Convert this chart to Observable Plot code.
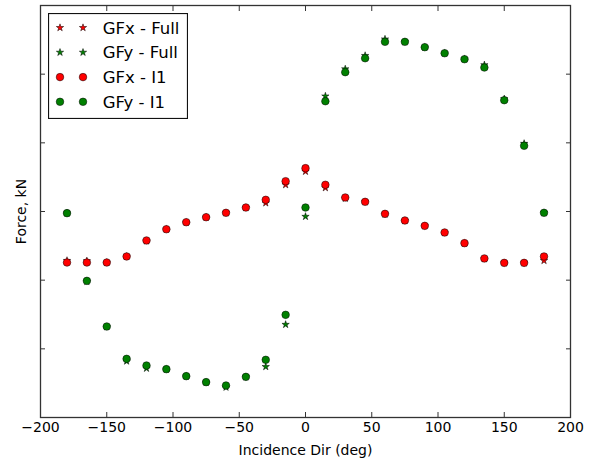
<!DOCTYPE html>
<html><head><meta charset="utf-8">
<script src="https://cdn.jsdelivr.net/npm/d3@7"></script>
<script src="https://cdn.jsdelivr.net/npm/@observablehq/plot@0.6"></script>
<style>
body{margin:0;background:#fff;}
#wrap{position:relative;width:592px;height:459px;font-family:"DejaVu Sans",sans-serif;}
#legend{position:absolute;left:48px;top:13px;}
</style></head><body><div id="wrap"></div>
<script>
const angles = [-180,-165,-150,-135,-120,-105,-90,-75,-60,-45,-30,-15,0,15,30,45,60,75,90,105,120,135,150,165,180];
const gfxFull = [-0.715,-0.72,-0.743,-0.655,-0.43,-0.26,-0.16,-0.085,-0.02,0.055,0.124,0.389,0.583,0.345,0.19,0.14,-0.04,-0.135,-0.21,-0.31,-0.465,-0.69,-0.75,-0.75,-0.715];
const gfyFull = [-0.024,-1.02,-1.68,-2.18,-2.285,-2.30,-2.40,-2.49,-2.56,-2.41,-2.26,-1.646,-0.073,1.68,2.075,2.27,2.51,2.47,2.39,2.305,2.22,2.135,1.64,0.99,-0.019];
const gfxI1 = [-0.743,-0.743,-0.743,-0.655,-0.422,-0.258,-0.156,-0.083,-0.019,0.058,0.170,0.441,0.631,0.389,0.204,0.141,-0.034,-0.131,-0.209,-0.306,-0.461,-0.684,-0.748,-0.748,-0.655];
const gfyI1 = [-0.024,-1.01,-1.675,-2.146,-2.243,-2.296,-2.398,-2.485,-2.534,-2.408,-2.16,-1.505,0.058,1.606,2.029,2.232,2.471,2.471,2.393,2.305,2.218,2.097,1.621,0.957,-0.019];
const xTicks = [-200,-150,-100,-50,0,50,100,150,200];
const yTicks = [-3,-2,-1,0,1,2,3];
const seriesNames = ["GFx - Full","GFy - Full","GFx - I1","GFy - I1"];
const seriesColors = ["#ff0000","#008000","#ff0000","#008000"];
const seriesSymbols = ["star","star","circle","circle"];

const seriesValues = [gfxFull, gfyFull, gfxI1, gfyI1];
const rows = seriesNames.map((name, s) => angles.map((a, i) => ({angle: a, value: seriesValues[s][i], series: name})));

const starOpts = {x: "angle", y: "value", symbol: "star", r: 2.3, stroke: "black", strokeWidth: 0.5};
const circOpts = {x: "angle", y: "value", r: 3.8, stroke: "black", strokeWidth: 0.5};
const noLabel = () => "";

const chart = Plot.plot({
  width: 592, height: 459,
  marginLeft: 40, marginRight: 22, marginTop: 5, marginBottom: 42,
  style: {fontFamily: "DejaVu Sans", fontSize: "14px", color: "black", background: "white"},
  x: {domain: [-200, 200]},
  y: {domain: [-3, 3]},
  marks: [
    Plot.axisX({anchor: "bottom", ticks: xTicks, tickSize: -5, tickPadding: 10, stroke: "#333", fill: "black", label: "Incidence Dir (deg)", labelArrow: "none", labelAnchor: "center", labelOffset: 37, fontSize: 14}),
    Plot.axisX({anchor: "top", ticks: xTicks, tickSize: -5, tickFormat: noLabel, stroke: "#333", label: null}),
    Plot.axisY({anchor: "left", ticks: yTicks, tickSize: -5, tickFormat: noLabel, stroke: "#333", fill: "black", label: "Force, kN", labelArrow: "none", labelAnchor: "center", labelOffset: 24.5, fontSize: 14}),
    Plot.axisY({anchor: "right", ticks: yTicks, tickSize: -5, tickFormat: noLabel, stroke: "#333", label: null}),
    Plot.dot(rows[0], {...starOpts, fill: seriesColors[0]}),
    Plot.dot(rows[1], {...starOpts, fill: seriesColors[1]}),
    Plot.dot(rows[2], {...circOpts, fill: seriesColors[2]}),
    Plot.dot(rows[3], {...circOpts, fill: seriesColors[3]}),
    Plot.frame({stroke: "#333", strokeWidth: 1.3})
  ]
});
const wrap = document.getElementById("wrap");
wrap.appendChild(chart);

// legend
const lw = 140, lh = 106;
const leg = d3.select(wrap).append("svg").attr("id", "legend").attr("width", lw).attr("height", lh);
leg.append("rect").attr("x", 0.5).attr("y", 0.5).attr("width", lw - 1).attr("height", lh - 1)
  .attr("fill", "white").attr("stroke", "#111").attr("stroke-width", 1.2);
seriesNames.forEach((name, i) => {
  const cy = 14.7 + i * 24.7;
  [12, 35].forEach(cx => {
    if (seriesSymbols[i] === "star") {
      const s = 2.3 * 2.3 * Math.PI;
      leg.append("path").attr("d", d3.symbol(d3.symbolStar, s)())
        .attr("transform", `translate(${cx},${cy})`)
        .attr("fill", seriesColors[i]).attr("stroke", "black").attr("stroke-width", 0.5);
    } else {
      leg.append("circle").attr("cx", cx).attr("cy", cy).attr("r", 3.8)
        .attr("fill", seriesColors[i]).attr("stroke", "black").attr("stroke-width", 0.5);
    }
  });
  leg.append("text").attr("x", 54.7).attr("y", cy).attr("dy", "0.36em")
    .attr("font-family", "DejaVu Sans").attr("font-size", 16.5).attr("fill", "black").text(name);
});
</script></body></html>
